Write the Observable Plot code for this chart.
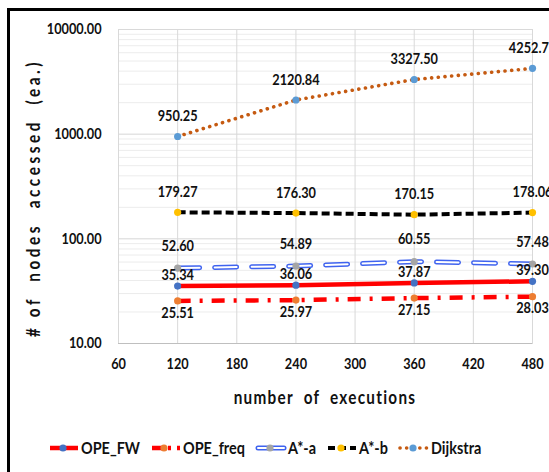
<!DOCTYPE html>
<html>
<head>
<meta charset="utf-8">
<script src="https://cdn.jsdelivr.net/npm/d3@7"></script>
<script src="https://cdn.jsdelivr.net/npm/@observablehq/plot@0.6"></script>
<style>
  html, body { margin: 0; padding: 0; background: #fff; width: 549px; height: 472px; overflow: hidden; }
  body { position: relative; font-family: Lato, "Open Sans", sans-serif; font-weight: 700; color: #111; }
  #border { position: absolute; left: 7px; top: 8px; width: 600px; height: 500px; border-left: 3px solid #000; border-top: 3px solid #000; }
  #chart { position: absolute; left: 0; top: 0; }
  #legend { position: absolute; left: 0; top: 437px; width: 536px; display: flex; justify-content: center; align-items: center; gap: 4px; font-size: 17px; }
  .item { display: flex; align-items: center; gap: 1px; }
  .item span { display: inline-block; transform: scaleX(0.85); transform-origin: left center; }
  #ytitle { position: absolute; left: 33px; top: 198px; transform: translate(-50%, -50%) rotate(-90deg) scaleX(0.85); white-space: pre; font-size: 18px; letter-spacing: 4.2px; }
  #xtitle { position: absolute; left: 325px; top: 397px; transform: translate(-50%, -50%) scaleX(0.85); white-space: pre; font-size: 18px; letter-spacing: 1.5px; }
</style>
</head>
<body>
<div id="border"></div>
<div id="chart"></div>
<div id="ytitle"># of  nodes  accessed  (ea.)</div>
<div id="xtitle">number  of  executions</div>
<div id="legend"></div>
<script>
// ---- data ----
const executions = [120, 240, 360, 480];
const opeFW = [35.34, 36.06, 37.87, 39.30];
const opeFreq = [25.51, 25.97, 27.15, 28.03];
const aStarA = [52.60, 54.89, 60.55, 57.48];
const aStarB = [179.27, 176.30, 170.15, 178.06];
const dijkstra = [950.25, 2120.84, 3327.50, 4252.77];
const seriesNames = ["OPE_FW", "OPE_freq", "A*-a", "A*-b", "Dijkstra"];
const seriesValues = [opeFW, opeFreq, aStarA, aStarB, dijkstra];
const xTicks = [60, 120, 180, 240, 300, 360, 420, 480];
const yTicks = [10, 100, 1000, 10000];

// ---- styles ----
const styles = {
  "OPE_FW":   {stroke: "#ff0000", width: 4.5, dash: null, cap: "butt", marker: "#4472c4", dy: -11},
  "OPE_freq": {stroke: "#ff0000", width: 4.5, dash: "13,9,3,9", cap: "butt", marker: "#ed7d31", dy: 12},
  "A*-a":     {stroke: "#3f63ef", width: 5, dash: "22,15", cap: "round", marker: "#a5a5a5", dy: -22, hollow: true},
  "A*-b":     {stroke: "#000000", width: 4, dash: "8,4", cap: "butt", marker: "#ffc000", dy: -20},
  "Dijkstra": {stroke: "#c55a11", width: 3.6, dash: "0.1,6.6", cap: "round", marker: "#5b9bd5", dy: -20}
};
const SQUISH = 0.85;

const rows = seriesNames.flatMap((name, i) =>
  executions.map((x, j) => ({series: name, x, y: seriesValues[i][j]}))
);

const minorTicks = d3.range(1, 4).flatMap(e => d3.range(2, 10).map(k => k * Math.pow(10, e)));

const lineMarks = seriesNames.flatMap(name => {
  const s = styles[name];
  const data = rows.filter(d => d.series === name);
  const m = [Plot.line(data, {x: "x", y: "y", stroke: s.stroke, strokeWidth: s.width,
    strokeDasharray: s.dash, strokeLinecap: s.cap})];
  if (s.hollow) {
    m.push(Plot.line(data, {x: "x", y: "y", stroke: "#fff", strokeWidth: 2,
      strokeDasharray: s.dash, strokeLinecap: s.cap}));
  }
  return m;
});

const dotMarks = seriesNames.map(name => Plot.dot(rows.filter(d => d.series === name),
  {x: "x", y: "y", r: 3.6, fill: styles[name].marker, stroke: "none"}));

const textMarks = seriesNames.map(name => Plot.text(rows.filter(d => d.series === name),
  {x: "x", y: "y", text: d => d.y.toFixed(2), dy: styles[name].dy, fill: "#111",
   fontSize: 15, fontWeight: 700}));

const chart = Plot.plot({
  width: 549,
  height: 420,
  marginLeft: 118,
  marginRight: 17,
  marginTop: 29,
  marginBottom: 77,
  style: {fontFamily: 'Lato, "Open Sans", sans-serif', background: "transparent", overflow: "visible"},
  x: {domain: [60, 480], ticks: xTicks},
  y: {type: "log", domain: [10, 10000]},
  marks: [
    Plot.ruleY(minorTicks, {stroke: "#ececec", strokeWidth: 1}),
    Plot.gridY(yTicks, {stroke: "#d6d6d6", strokeOpacity: 1}),
    Plot.gridX(xTicks, {stroke: "#d9d9d9", strokeOpacity: 1}),
    Plot.frame({stroke: "#d9d9d9"}),
    Plot.ruleY([10], {stroke: "#bfbfbf"}),
    Plot.axisY(yTicks, {tickSize: 0, tickPadding: 17, tickFormat: d => d.toFixed(2), label: null,
      fontSize: 15, fontWeight: 700, fill: "#111"}),
    Plot.axisX(xTicks, {tickSize: 0, tickPadding: 15, label: null, fontSize: 15, fontWeight: 700, fill: "#111"}),
    ...lineMarks,
    ...dotMarks,
    ...textMarks
  ]
});
document.getElementById("chart").appendChild(chart);

// condense text horizontally about its anchor point (reference text is narrow)
chart.querySelectorAll("text").forEach(el => {
  const bb = el.getBBox();
  const anchor = getComputedStyle(el).textAnchor;
  const ox = anchor === "end" ? bb.x + bb.width : anchor === "start" ? bb.x : bb.x + bb.width / 2;
  const prev = el.getAttribute("transform") || "";
  el.setAttribute("transform", `${prev} translate(${ox},0) scale(${SQUISH},1) translate(${-ox},0)`);
});

// ---- legend ----
const legend = document.getElementById("legend");
seriesNames.forEach(name => {
  const s = styles[name];
  const item = document.createElement("div");
  item.className = "item";
  const ns = "http://www.w3.org/2000/svg";
  const svg = document.createElementNS(ns, "svg");
  svg.setAttribute("width", 32); svg.setAttribute("height", 12);
  const mk = (attrs) => { const l = document.createElementNS(ns, "line");
    for (const k in attrs) l.setAttribute(k, attrs[k]); svg.appendChild(l); };
  const base = {x1: 2, x2: 30, y1: 6, y2: 6, stroke: s.stroke, "stroke-width": s.width, "stroke-linecap": s.cap};
  if (name === "OPE_freq") base["stroke-dasharray"] = "10,6,3,6";
  else if (name === "A*-b") base["stroke-dasharray"] = "7,4";
  else if (name === "Dijkstra") base["stroke-dasharray"] = "0.1,6.5";
  else if (name === "A*-a") { base.x1 = 3; base.x2 = 29; }
  mk(base);
  if (s.hollow) mk({x1: 3, x2: 29, y1: 6, y2: 6, stroke: "#fff", "stroke-width": 2, "stroke-linecap": "round"});
  const c = document.createElementNS(ns, "circle");
  c.setAttribute("cx", name === "OPE_freq" ? 14 : 15); c.setAttribute("cy", 6); c.setAttribute("r", 3.6);
  c.setAttribute("fill", s.marker); svg.appendChild(c);
  item.appendChild(svg);
  const t = document.createElement("span");
  t.textContent = name;
  item.appendChild(t);
  legend.appendChild(item);
});
document.querySelectorAll(".item span").forEach(sp => {
  const w = sp.getBoundingClientRect().width;
  sp.style.marginRight = `${-(w / SQUISH) * (1 - SQUISH) + 6}px`;
});
</script>
</body>
</html>
